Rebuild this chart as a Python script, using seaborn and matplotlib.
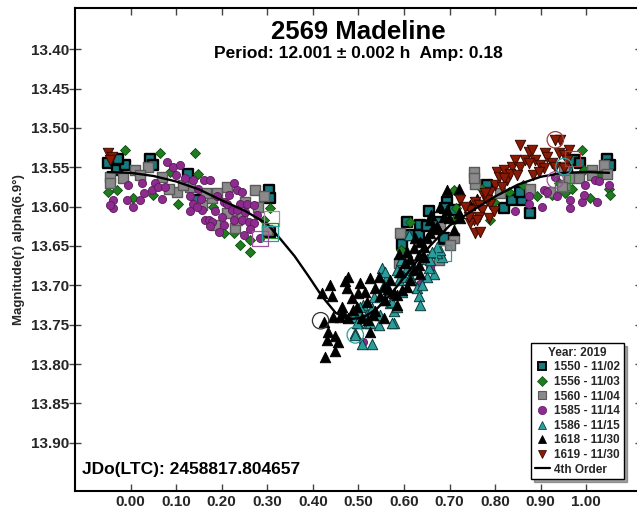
import matplotlib
matplotlib.use("Agg")
import matplotlib.pyplot as plt
from matplotlib.lines import Line2D
import pandas as pd
import seaborn as sns

# ---- observations: rotational phase and reduced magnitude per session ----
s1550_phase = [-0.049, -0.030, -0.012, -0.027, 0.043, 0.050, 0.127, 0.145, 0.303, 0.306, 0.306,
               0.606, 0.636, 0.654, 0.694, 0.690, 0.672, 0.595, 0.614, 0.632, 0.650, 0.690, 0.709, 0.687,
               0.782, 0.819, 0.837, 0.859, 0.877, 0.855, 0.958, 0.972, 0.987, 1.045, 1.053]
s1550_mag = [13.545, 13.553, 13.547, 13.540, 13.539, 13.547, 13.558, 13.592, 13.579, 13.589, 13.632,
             13.619, 13.623, 13.606, 13.594, 13.602, 13.619, 13.647, 13.636, 13.636, 13.625, 13.642, 13.604, 13.640,
             13.572, 13.602, 13.592, 13.592, 13.608, 13.581, 13.553, 13.541, 13.545, 13.539, 13.547]

s1556_phase = [-0.012, 0.065, 0.142, 0.149, -0.049, -0.030, 0.006, 0.050, 0.105, 0.087, 0.204, 0.226,
               0.240, 0.262, 0.262, 0.292, 0.306, 0.120, 0.180,
               0.991, 1.049, 1.053, 1.009, 0.954, 0.969, 0.994, 1.031, 0.939, 0.925, 0.892, 0.862,
               0.830, 0.771, 0.797, 0.709, 0.713, 0.789, 0.614, 0.594, 0.709]
s1556_mag = [13.528, 13.532, 13.532, 13.558, 13.581, 13.579, 13.589, 13.585, 13.596, 13.556, 13.634, 13.634,
             13.649, 13.642, 13.657, 13.617, 13.602, 13.570, 13.600,
             13.528, 13.577, 13.585, 13.589, 13.583, 13.577, 13.553, 13.558, 13.570, 13.585, 13.587, 13.572,
             13.581, 13.577, 13.594, 13.579, 13.602, 13.617, 13.619, 13.655, 13.617]

s1560_phase = [-0.045, -0.045, -0.016, 0.010, 0.039, 0.068, 0.101, 0.085, 0.156, 0.178, 0.189, 0.211,
               0.211, 0.229, 0.233, 0.251, 0.273, 0.292, 0.299, 0.185, 0.131, 0.020, 0.115, 0.165,
               0.245, 0.280,
               0.592, 0.588, 0.676, 0.709, 0.701, 0.756, 0.679, 0.753, 0.753, 0.811, 0.877, 0.921,
               0.954, 0.961, 1.012, 1.012, 1.038, 1.045, 0.983, 0.950, 0.947, 0.600]
s1560_mag = [13.562, 13.570, 13.564, 13.553, 13.549, 13.562, 13.581, 13.578, 13.598, 13.589, 13.583, 13.575,
             13.608, 13.627, 13.617, 13.594, 13.579, 13.587, 13.630, 13.623, 13.575, 13.560, 13.572, 13.583,
             13.610, 13.600,
             13.634, 13.672, 13.668, 13.640, 13.649, 13.571, 13.625, 13.556, 13.564, 13.583, 13.577, 13.581,
             13.572, 13.564, 13.553, 13.560, 13.547, 13.558, 13.564, 13.549, 13.575, 13.665]

s1585_phase = [-0.038, -0.038, -0.008, 0.021, 0.025, -0.005, 0.079, 0.094, 0.109, 0.054, 0.046, 0.061,
               0.076, 0.120, 0.138, 0.160, 0.175, 0.149, 0.131, 0.138, 0.131, 0.156, 0.145, 0.189,
               0.164, 0.171, 0.178, 0.204, 0.211, 0.226, 0.233, 0.244, 0.240, 0.255, 0.270, 0.222,
               0.233, 0.200, 0.204, 0.226, 0.244, 0.259, 0.270, 0.277, 0.248, 0.284, 0.175, -0.045,
               0.005, 0.030, 0.100, 0.185, 0.215, 0.250, 0.262, 0.195, 0.155, 0.068,
               0.874, 0.874, 0.903, 0.844, 0.907, 0.936, 0.932, 0.965, 0.965, 0.991, 0.994, 1.023,
               1.020, 1.027, 0.998, 1.049, 0.914,
               0.657, 0.634, 0.511]
s1585_mag = [13.592, 13.602, 13.592, 13.592, 13.570, 13.572, 13.543, 13.549, 13.547, 13.570, 13.579, 13.575,
             13.575, 13.564, 13.566, 13.566, 13.566, 13.577, 13.587, 13.596, 13.606, 13.604, 13.600, 13.587,
             13.617, 13.617, 13.619, 13.594, 13.596, 13.570, 13.579, 13.581, 13.596, 13.596, 13.598, 13.604,
             13.604, 13.613, 13.623, 13.617, 13.617, 13.619, 13.621, 13.611, 13.636, 13.640, 13.625, 13.598,
             13.600, 13.583, 13.560, 13.605, 13.585, 13.607, 13.628, 13.632, 13.590, 13.590,
             13.587, 13.596, 13.600, 13.606, 13.579, 13.587, 13.562, 13.592, 13.602, 13.594, 13.585, 13.594,
             13.566, 13.568, 13.572, 13.572, 13.581,
             13.677, 13.698, 13.772]

s1586_phase = [0.551, 0.563, 0.555, 0.588, 0.588, 0.617, 0.628, 0.632, 0.636, 0.566, 0.570, 0.577,
               0.548, 0.544, 0.522, 0.519, 0.500, 0.500, 0.489, 0.493, 0.508, 0.530, 0.577, 0.584,
               0.683, 0.665, 0.654, 0.673, 0.679, 0.650, 0.610, 0.610, 0.650, 0.595, 0.559, 0.584,
               0.593, 0.606, 0.672, 0.657, 0.599, 0.614, 0.661, 0.511, 0.504, 0.530, 0.555, 0.573,
               0.526, 0.497, 0.493, 0.573, 0.535, 0.620, 0.640]
s1586_mag = [13.678, 13.689, 13.700, 13.683, 13.693, 13.693, 13.704, 13.714, 13.725, 13.706, 13.723, 13.733,
             13.738, 13.750, 13.748, 13.736, 13.748, 13.733, 13.740, 13.761, 13.774, 13.774, 13.748, 13.727,
             13.664, 13.685, 13.678, 13.659, 13.655, 13.689, 13.636, 13.680, 13.666, 13.708, 13.683, 13.680,
             13.668, 13.678, 13.651, 13.668, 13.689, 13.689, 13.657, 13.725, 13.727, 13.729, 13.719, 13.721,
             13.748, 13.748, 13.763, 13.748, 13.715, 13.675, 13.700]

s1618_phase = [0.420, 0.424, 0.442, 0.434, 0.449, 0.456, 0.431, 0.449, 0.427, 0.463, 0.460, 0.478,
               0.475, 0.486, 0.504, 0.500, 0.526, 0.537, 0.519, 0.537, 0.522, 0.497, 0.478, 0.559,
               0.577, 0.584, 0.595, 0.555, 0.570, 0.526, 0.548, 0.584, 0.614, 0.606, 0.621, 0.632,
               0.603, 0.614, 0.632, 0.643, 0.650, 0.657, 0.665, 0.672, 0.687, 0.694, 0.698, 0.720,
               0.720, 0.636, 0.621, 0.643, 0.606, 0.592, 0.636, 0.657, 0.694, 0.709, 0.723, 0.445,
               0.467, 0.489, 0.508, 0.533, 0.555, 0.438, 0.745, 0.760,
               0.470, 0.515, 0.545, 0.565, 0.590, 0.625, 0.660, 0.680]
s1618_mag = [13.710, 13.746, 13.714, 13.759, 13.765, 13.772, 13.770, 13.784, 13.791, 13.727, 13.740, 13.689,
             13.704, 13.716, 13.697, 13.710, 13.691, 13.704, 13.721, 13.733, 13.744, 13.727, 13.742, 13.719,
             13.710, 13.725, 13.706, 13.702, 13.693, 13.759, 13.714, 13.712, 13.693, 13.702, 13.680, 13.674,
             13.672, 13.666, 13.661, 13.651, 13.640, 13.634, 13.628, 13.625, 13.613, 13.604, 13.615, 13.577,
             13.608, 13.645, 13.653, 13.664, 13.657, 13.683, 13.685, 13.617, 13.579, 13.630, 13.615, 13.740,
             13.735, 13.731, 13.742, 13.738, 13.742, 13.700, 13.598, 13.590,
             13.695, 13.708, 13.690, 13.705, 13.660, 13.640, 13.610, 13.600]

s1619_phase = [0.723, 0.756, 0.764, 0.775, 0.789, 0.786, 0.753, 0.745, 0.756, 0.767, 0.797, 0.804,
               0.808, 0.819, 0.826, 0.837, 0.844, 0.855, 0.866, 0.874, 0.881, 0.888, 0.899, 0.910,
               0.914, 0.925, 0.939, 0.951, 0.943, 0.932, 0.958, 0.855, 0.800, 0.789, 0.833, 0.874,
               0.848, 0.884, 0.907, 0.896, 0.745, 0.771, 0.782, 0.778, 0.819, 0.815, 0.764, 0.932,
               0.951, 0.962, 0.760, 0.742, 0.733, -0.049, -0.041, -0.045]
s1619_mag = [13.592, 13.594, 13.598, 13.587, 13.596, 13.615, 13.617, 13.621, 13.634, 13.632, 13.606, 13.556,
             13.562, 13.553, 13.566, 13.549, 13.541, 13.549, 13.541, 13.530, 13.528, 13.541, 13.547, 13.532,
             13.537, 13.545, 13.532, 13.534, 13.515, 13.515, 13.541, 13.522, 13.572, 13.581, 13.558, 13.545,
             13.560, 13.560, 13.551, 13.556, 13.604, 13.604, 13.592, 13.583, 13.564, 13.575, 13.613, 13.549,
             13.551, 13.528, 13.617, 13.613, 13.600, 13.532, 13.537, 13.541]

# ---- 4th order Fourier fit ----
fit_phase = [-0.05, 0.00, 0.05, 0.10, 0.15, 0.20, 0.25, 0.30, 0.33, 0.36, 0.39, 0.42, 0.45, 0.48,
             0.51, 0.54, 0.57, 0.60, 0.63, 0.66, 0.70, 0.75, 0.80, 0.85, 0.90, 0.95, 1.00, 1.05]
fit_mag = [13.556, 13.557, 13.561, 13.568, 13.578, 13.592, 13.605, 13.622, 13.642, 13.663, 13.688, 13.714,
           13.735, 13.743, 13.741, 13.730, 13.712, 13.690, 13.668, 13.648, 13.624, 13.605, 13.587, 13.572,
           13.562, 13.557, 13.556, 13.557]

# ---- open session-start markers ----
ring_sq_phase = [0.310, 0.306, 0.306, 0.284, 0.687, 0.969, 0.947]
ring_sq_mag = [13.615, 13.630, 13.634, 13.640, 13.659, 13.539, 13.570]
ring_sq_color = ["#9a9a9a", "#2e8b2e", "#2a9d9d", "#a050a0", "#2a9d9d", "#a04040", "#2e8b2e"]
ring_ci_phase = [0.417, 0.493, 0.932, 0.932, 0.951]
ring_ci_mag = [13.745, 13.763, 13.515, 13.566, 13.549]
ring_ci_color = ["#303030", "#2a9d9d", "#a04040", "#a050a0", "#2a9d9d"]

x_ticks = [0.0, 0.1, 0.2, 0.3, 0.4, 0.5, 0.6, 0.7, 0.8, 0.9, 1.0]
y_ticks = [13.40, 13.45, 13.50, 13.55, 13.60, 13.65, 13.70, 13.75, 13.80, 13.85, 13.90]

sessions = [
    ("1550 - 11/02", s1550_phase, s1550_mag, "s", "#167a80", "#000000", 55, 1.7),
    ("1556 - 11/03", s1556_phase, s1556_mag, "D", "#1e7d1e", "#0f4a0f", 26, 0.6),
    ("1560 - 11/04", s1560_phase, s1560_mag, "s", "#8a8a8a", "#5a5a5a", 55, 1.0),
    ("1585 - 11/14", s1585_phase, s1585_mag, "o", "#8e2b8e", "#5c1a5c", 34, 0.6),
    ("1586 - 11/15", s1586_phase, s1586_mag, "^", "#2a9d9d", "#0a3a3a", 56, 0.7),
    ("1618 - 11/30", s1618_phase, s1618_mag, "^", "#000000", "#000000", 56, 0.7),
    ("1619 - 11/30", s1619_phase, s1619_mag, "v", "#8b1a05", "#3a0a00", 56, 0.7),
]

sns.set_theme(style="white")
plt.rcParams["font.family"] = ["Liberation Sans", "DejaVu Sans"]
plt.rcParams["font.weight"] = "bold"

fig = plt.figure(figsize=(6.37, 5.12), dpi=100)
ax = fig.add_axes([75 / 637, 21 / 512, 566 / 637, 483 / 512])

handles = []
for label, ph, mag, mk, fc, ec, size, lw in sessions:
    df = pd.DataFrame({"phase": ph, "mag": mag})
    sns.scatterplot(data=df, x="phase", y="mag", ax=ax, marker=mk, s=size,
                    color=fc, edgecolor=ec, linewidth=lw, zorder=3, legend=False)
    handles.append(Line2D([], [], linestyle="none", marker=mk, markersize=6 if mk != "D" else 5,
                          markerfacecolor=fc, markeredgecolor=ec, markeredgewidth=lw * 0.8,
                          label=label))

fit_df = pd.DataFrame({"phase": fit_phase, "mag": fit_mag})
sns.lineplot(data=fit_df, x="phase", y="mag", ax=ax, color="black", linewidth=1.7,
             sort=False, zorder=4, legend=False)
handles.append(Line2D([], [], color="black", linewidth=1.6, label="4th Order"))

ax.scatter(ring_sq_phase, ring_sq_mag, marker="s", s=120, facecolors="none",
           edgecolors=ring_sq_color, linewidths=0.9, zorder=5)
ax.scatter(ring_ci_phase, ring_ci_mag, marker="o", s=140, facecolors="none",
           edgecolors=ring_ci_color, linewidths=0.9, zorder=5)

ax.set_xlim(-0.122, 1.12)
ax.set_ylim(13.9614, 13.3475)
ax.set_xticks(x_ticks)
ax.set_xticklabels([f"{v:.2f}" for v in x_ticks], fontsize=11, fontweight="bold")
ax.set_yticks(y_ticks)
ax.set_yticklabels([f"{v:.2f}" for v in y_ticks], fontsize=11, fontweight="bold")
ax.set_xlabel("")
ax.set_ylabel("Magnitude(r) alpha(6.9°)", fontsize=9.5, fontweight="bold", labelpad=4)

ax.tick_params(axis="x", which="both", direction="in", length=5, width=1, color="#444444",
               top=True, bottom=True, labelbottom=True, pad=3)
ax.tick_params(axis="y", which="both", direction="inout", length=9, width=1, color="#444444",
               left=True, right=True, pad=0)
for side in ["left", "right", "top", "bottom"]:
    ax.spines[side].set_color("black")
    ax.spines[side].set_linewidth(1.5)

ax.text(0.5, 0.951, "2569 Madeline", transform=ax.transAxes, ha="center", va="center",
        fontsize=18.5, fontweight="bold", color="black")
ax.text(0.5, 0.906, "Period: 12.001 \u00b1 0.002 h  Amp: 0.18", transform=ax.transAxes,
        ha="center", va="center", fontsize=12.5, fontweight="bold", color="black")
ax.text(0.012, 0.045, "JDo(LTC): 2458817.804657", transform=ax.transAxes, ha="left",
        va="center", fontsize=12.5, fontweight="bold", color="black")

leg = ax.legend(handles=handles, title="Year: 2019", loc="upper left",
                bbox_to_anchor=(0.806, 0.306), fontsize=8.5, title_fontsize=8.5,
                frameon=True, fancybox=False, shadow=True, edgecolor="black",
                borderpad=0.3, labelspacing=0.22, handlelength=1.3, handletextpad=0.35,
                borderaxespad=0.0)
leg.get_title().set_fontweight("bold")
leg.get_frame().set_linewidth(1.0)
for t in leg.get_texts():
    t.set_fontweight("bold")
leg.set_zorder(10)

fig.savefig("out.png", dpi=100)
